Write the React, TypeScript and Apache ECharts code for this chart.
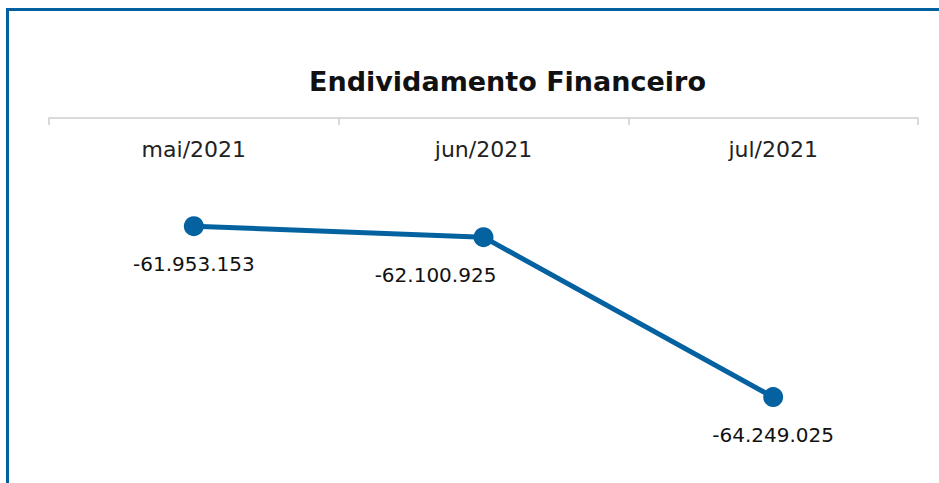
import React, { useEffect, useRef } from "react";
import * as echarts from "echarts";

const title = "Endividamento Financeiro";
const categories = ["mai/2021", "jun/2021", "jul/2021"];
const values = [-61953153, -62100925, -64249025];
const labelOffsetX = [0, -48, 0];

const FONT = "'DejaVu Sans', sans-serif";

function fmt(v: number): string {
  const s = Math.abs(Math.round(v)).toString().replace(/\B(?=(\d{3})+(?!\d))/g, ".");
  return (v < 0 ? "-" : "") + s;
}

export default function App() {
  const ref = useRef<HTMLDivElement>(null);
  useEffect(() => {
    if (!ref.current) return;
    const chart = echarts.init(ref.current, null, { renderer: "svg" });
    chart.setOption({
      animation: false,
      backgroundColor: "#ffffff",
      title: {
        text: title,
        left: 304,
        top: 63,
        textStyle: { fontFamily: FONT, fontSize: 27, fontWeight: "bold", color: "#111111" },
      },
      grid: { left: 49, right: 21, top: 118, bottom: 30 },
      xAxis: {
        type: "category",
        position: "top",
        data: categories,
        boundaryGap: true,
        axisLine: { show: true, lineStyle: { color: "#d9d9d9", width: 2 } },
        axisTick: { show: true, inside: true, length: 7, lineStyle: { color: "#d9d9d9", width: 2 } },
        axisLabel: { inside: true, fontFamily: FONT, fontSize: 22, color: "#222222", margin: 20 },
        splitLine: { show: false },
      },
      yAxis: {
        type: "value",
        min: -65000000,
        max: -60500000,
        show: false,
      },
      series: [
        {
          type: "line",
          data: values.map((v, i) => ({
            value: v,
            label: { offset: [labelOffsetX[i], 0] },
          })),
          symbol: "circle",
          symbolSize: 20,
          lineStyle: { color: "#0462a1", width: 5 },
          itemStyle: { color: "#0462a1" },
          label: {
            show: true,
            position: "bottom",
            distance: 18,
            fontFamily: FONT,
            fontSize: 20,
            color: "#111111",
            formatter: (p: any) => fmt(p.value),
          },
        },
      ],
      graphic: [
        { type: "rect", shape: { x: 6, y: 8, width: 933, height: 3 }, style: { fill: "#0060a0" } },
        { type: "rect", shape: { x: 6, y: 8, width: 3, height: 475 }, style: { fill: "#0060a0" } },
      ],
    });
    return () => chart.dispose();
  }, []);
  return (
    <div
      ref={ref}
      style={{ position: "fixed", left: 0, top: 0, width: 939, height: 483 }}
    />
  );
}
